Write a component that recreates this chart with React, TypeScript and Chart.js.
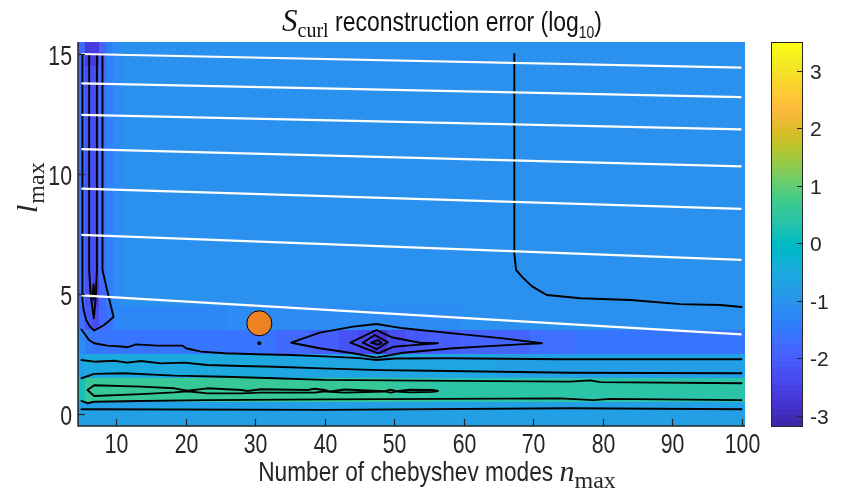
import React, { useEffect, useRef } from "react";
import { Chart, registerables } from "chart.js";
Chart.register(...registerables);

// ---------- data ----------
const N_COLS = [5, 6, 7, 8, 9, 10, 12, 16, 22, 30, 36, 40, 44, 46, 48, 50, 53, 57, 62, 67, 72, 80, 90, 100];
const L_ROWS = [0, 1, 2, 3, 4, 5, 6, 7, 8, 9, 10, 11, 12, 13, 14, 15];

const ERR_L0 = [-0.78, -0.76, -0.76, -0.76, -0.76, -0.76, -0.76, -0.76, -0.76, -0.76, -0.76, -0.76, -0.76, -0.76, -0.76, -0.76, -0.76, -0.76, -0.76, -0.76, -0.76, -0.76, -0.76, -0.76];
const ERR_L1 = [0.25, 0.6, 0.62, 0.62, 0.62, 0.62, 0.62, 0.6, 0.6, 0.6, 0.6, 0.58, 0.58, 0.58, 0.58, 0.56, 0.56, 0.45, 0.42, 0.42, 0.43, 0.44, 0.42, 0.42];
const ERR_L2 = [-0.7, -0.55, -0.55, -0.55, -0.55, -0.55, -0.55, -0.56, -0.57, -0.58, -0.6, -0.62, -0.63, -0.64, -0.66, -0.64, -0.63, -0.64, -0.68, -0.7, -0.7, -0.7, -0.7, -0.7];
const ERR_L3 = [-1.2, -1.5, -1.55, -1.55, -1.58, -1.6, -1.6, -1.6, -1.62, -1.62, -1.75, -2.0, -2.2, -2.4, -2.7, -2.3, -2.1, -1.95, -1.9, -1.85, -1.7, -1.6, -1.6, -1.6];
const ERR_L4 = [-1.7, -2.1, -2.3, -1.8, -1.55, -1.3, -1.22, -1.22, -1.22, -1.2, -1.2, -1.18, -1.18, -1.18, -1.2, -1.18, -1.15, -1.12, -1.1, -1.1, -1.08, -1.08, -1.08, -1.08];
const ERR_L5 = [-1.7, -2.25, -2.5, -1.75, -1.35, -1.18, -1.1, -1.06, -1.04, -1.04, -1.04, -1.04, -1.04, -1.04, -1.04, -1.04, -1.04, -1.04, -1.04, -1.04, -1.03, -1.03, -1.03, -1.03];
const ERR_L6 = [-1.7, -2.25, -2.3, -1.7, -1.32, -1.17, -1.1, -1.06, -1.04, -1.04, -1.04, -1.04, -1.04, -1.04, -1.04, -1.04, -1.04, -1.04, -1.04, -1.04, -1.03, -1.03, -1.03, -1.03];
const ERR_L7 = [-1.7, -2.25, -2.3, -1.7, -1.32, -1.17, -1.1, -1.06, -1.04, -1.04, -1.04, -1.04, -1.04, -1.04, -1.04, -1.04, -1.04, -1.04, -1.04, -1.04, -1.03, -1.03, -1.03, -1.03];
const ERR_L8 = [-1.7, -2.25, -2.3, -1.7, -1.32, -1.17, -1.1, -1.06, -1.04, -1.04, -1.04, -1.04, -1.04, -1.04, -1.04, -1.04, -1.04, -1.04, -1.04, -1.04, -1.03, -1.03, -1.03, -1.03];
const ERR_L9 = [-1.7, -2.25, -2.3, -1.7, -1.32, -1.17, -1.1, -1.06, -1.04, -1.04, -1.04, -1.04, -1.04, -1.04, -1.04, -1.04, -1.04, -1.04, -1.04, -1.04, -1.03, -1.03, -1.03, -1.03];
const ERR_L10 = [-1.7, -2.25, -2.3, -1.7, -1.32, -1.17, -1.1, -1.06, -1.04, -1.04, -1.04, -1.04, -1.04, -1.04, -1.04, -1.04, -1.04, -1.04, -1.04, -1.04, -1.03, -1.03, -1.03, -1.03];
const ERR_L11 = [-1.7, -2.25, -2.3, -1.7, -1.32, -1.17, -1.1, -1.06, -1.04, -1.04, -1.04, -1.04, -1.04, -1.04, -1.04, -1.04, -1.04, -1.04, -1.04, -1.04, -1.03, -1.03, -1.03, -1.03];
const ERR_L12 = [-1.7, -2.25, -2.3, -1.7, -1.32, -1.17, -1.1, -1.06, -1.04, -1.04, -1.04, -1.04, -1.04, -1.04, -1.04, -1.04, -1.04, -1.04, -1.04, -1.04, -1.03, -1.03, -1.03, -1.03];
const ERR_L13 = [-1.7, -2.25, -2.3, -1.7, -1.32, -1.17, -1.1, -1.06, -1.04, -1.04, -1.04, -1.04, -1.04, -1.04, -1.04, -1.04, -1.04, -1.04, -1.04, -1.04, -1.03, -1.03, -1.03, -1.03];
const ERR_L14 = [-1.75, -2.3, -2.35, -1.75, -1.33, -1.17, -1.1, -1.06, -1.04, -1.04, -1.04, -1.04, -1.04, -1.04, -1.04, -1.04, -1.04, -1.04, -1.04, -1.04, -1.03, -1.03, -1.03, -1.03];
const ERR_L15 = [-1.8, -2.6, -2.65, -1.9, -1.35, -1.18, -1.1, -1.06, -1.04, -1.04, -1.04, -1.04, -1.04, -1.04, -1.04, -1.04, -1.04, -1.04, -1.04, -1.04, -1.03, -1.03, -1.03, -1.03];
const ERR_TABLE = [ERR_L0, ERR_L1, ERR_L2, ERR_L3, ERR_L4, ERR_L5, ERR_L6, ERR_L7, ERR_L8, ERR_L9, ERR_L10, ERR_L11, ERR_L12, ERR_L13, ERR_L14, ERR_L15];

const X_TICKS = [10, 20, 30, 40, 50, 60, 70, 80, 90, 100];
const Y_TICKS = [0, 5, 10, 15];
const CB_TICKS = [-3, -2, -1, 0, 1, 2, 3];
const CB_MIN = -3.2;
const CB_MAX = 3.5;

// white guide lines: l at n=5 and at n=100
const WHITE_N = [5, 100];
const WHITE_L_START = [15.0, 13.78, 12.46, 11.04, 9.39, 7.46, 4.94];
const WHITE_L_END = [14.43, 13.2, 11.86, 10.32, 8.55, 6.42, 3.32];

// contour polylines [n, l]
const C_STRIP_OUTER = [[5.14, 15], [5.14, 4.75], [5.31, 4.33], [5.67, 3.92], [6.25, 3.63], [6.83, 3.48], [8.27, 3.71], [9.61, 4.04], [8.85, 4.96], [8.02, 6.0], [8.02, 15]];
const C_STRIP_INNER = [[6.11, 15], [6.11, 6.0], [6.32, 4.96], [6.77, 3.99], [7.04, 4.75], [7.22, 6.0], [7.22, 15]];
const C_STRIP_CORE = [[6.75, 5.4], [6.9, 5.08], [6.75, 4.75], [6.61, 5.08], [6.75, 5.4]];
const C_UPPER_RIGHT = [[67.3, 15], [67.3, 6.7], [67.55, 6.0], [68.56, 5.67], [69.81, 5.33], [70.7, 5.17], [71.98, 4.96], [76.8, 4.82], [84.0, 4.75], [91.2, 4.58], [96.97, 4.54], [100, 4.46]];
const C_A = [[5, 3.52], [6.11, 3.08], [6.83, 2.95], [8.75, 2.85], [11.15, 2.8], [11.59, 2.78], [12.84, 2.9], [15.96, 2.85], [19.52, 2.85], [20.05, 2.74], [22.2, 2.6], [25.6, 2.53], [30.3, 2.49], [35.2, 2.46], [40, 2.4], [45.05, 2.33], [47.46, 2.25], [50.1, 2.31], [58, 2.32], [73.9, 2.28], [86.9, 2.28], [100, 2.28]];
const C_B = [[5, 2.25], [6.83, 2.18], [9.71, 2.22], [11.59, 2.14], [13.56, 2.21], [16.45, 2.11], [19.8, 2.14], [23.1, 2.04], [28, 2.0], [32.8, 1.97], [39.6, 1.9], [47.9, 1.83], [58, 1.79], [75.3, 1.72], [86.9, 1.71], [100, 1.7]];
const C_C = [[5, 1.49], [6.83, 1.67], [11.15, 1.7], [18.4, 1.6], [25.6, 1.55], [32.8, 1.49], [40, 1.42], [53.7, 1.39], [75.3, 1.35], [78.2, 1.4], [79.7, 1.33], [100, 1.28]];
const C_D = [[5.86, 1.0], [6.83, 1.2], [13.56, 1.14], [18.37, 1.07], [20.24, 0.97], [23.13, 1.07], [28, 1.0], [28.9, 0.96], [30.87, 1.03], [37.55, 1.0], [38.56, 1.05], [40, 1.0], [40.7, 0.94], [42.9, 1.02], [48.66, 0.95], [49.5, 1.01], [50.34, 0.95], [52.3, 1.01], [55.5, 1.0], [56.3, 0.96], [55.5, 0.92], [52.3, 0.9], [50.34, 0.94], [49.5, 0.89], [48.66, 0.94], [42.9, 0.89], [40.7, 0.92], [40, 0.95], [38.56, 0.89], [30.87, 0.89], [28, 0.86], [23.13, 0.86], [20.24, 0.95], [18.37, 0.9], [13.56, 0.83], [6.83, 0.75], [5.86, 1.0]];
const C_E = [[5, 0.55], [5.86, 0.45], [6.83, 0.51], [13.56, 0.54], [23.13, 0.58], [40, 0.61], [73.9, 0.65], [78.7, 0.58], [81.1, 0.63], [100, 0.58]];
const C_F = [[5, 0.2], [40, 0.17], [75.3, 0.24], [100, 0.2]];
const C_BLOB1 = [[35.2, 2.97], [39.3, 3.39], [44.1, 3.64], [47.46, 3.75], [51.3, 3.57], [58.5, 3.36], [65.7, 3.15], [71.26, 2.95], [68.1, 2.9], [58.5, 2.74], [51.3, 2.55], [47.46, 2.35], [44.1, 2.53], [39.3, 2.74], [35.2, 2.97]];
const C_BLOB2 = [[43.7, 2.97], [47.46, 3.5], [49.6, 3.2], [53.7, 2.97], [56.3, 2.95], [53.7, 2.89], [49.85, 2.8], [47.7, 2.53], [43.7, 2.97]];
const C_BLOB3 = [[45.5, 2.97], [47.2, 3.29], [49.1, 2.99], [47.46, 2.7], [45.5, 2.97]];
const C_BLOB4 = [[46.7, 2.97], [47.7, 3.08], [48.2, 2.95], [47.7, 2.89], [46.7, 2.97]];
const CONTOURS = [C_STRIP_OUTER, C_STRIP_INNER, C_STRIP_CORE, C_UPPER_RIGHT, C_A, C_B, C_C, C_D, C_E, C_F, C_BLOB1, C_BLOB2, C_BLOB3, C_BLOB4];

const OPTIMUM = [30.6, 3.78];
const SMALL_DOT = [30.6, 2.95];

// ---------- style ----------
const PARULA = [
  [0.2422, 0.1504, 0.6603], [0.2504, 0.165, 0.7076], [0.2578, 0.1818, 0.7511], [0.2647, 0.1978, 0.7952],
  [0.2706, 0.2147, 0.8364], [0.2751, 0.2342, 0.871], [0.2783, 0.2559, 0.8991], [0.2803, 0.2782, 0.9221],
  [0.2813, 0.3006, 0.9414], [0.281, 0.3228, 0.9579], [0.2795, 0.3447, 0.9717], [0.276, 0.3667, 0.9829],
  [0.2699, 0.3892, 0.9906], [0.2602, 0.4123, 0.9952], [0.244, 0.4358, 0.9988], [0.2206, 0.4603, 0.9973],
  [0.1963, 0.4847, 0.9892], [0.1834, 0.5074, 0.9798], [0.1786, 0.5289, 0.9682], [0.1764, 0.5499, 0.952],
  [0.1687, 0.5703, 0.9359], [0.154, 0.5902, 0.9218], [0.146, 0.6091, 0.9079], [0.138, 0.6276, 0.8973],
  [0.1248, 0.6459, 0.8883], [0.1113, 0.6635, 0.8763], [0.0952, 0.6798, 0.8598], [0.0689, 0.6948, 0.8394],
  [0.0297, 0.7082, 0.8163], [0.0036, 0.7203, 0.7917], [0.0067, 0.7312, 0.766], [0.0433, 0.7411, 0.7394],
  [0.0964, 0.75, 0.712], [0.1408, 0.7584, 0.6842], [0.1717, 0.767, 0.6554], [0.1938, 0.7758, 0.6251],
  [0.2161, 0.7843, 0.5923], [0.247, 0.7918, 0.5567], [0.2906, 0.7973, 0.5188], [0.3406, 0.8008, 0.4789],
  [0.3909, 0.8029, 0.4354], [0.4456, 0.8024, 0.3909], [0.5044, 0.7993, 0.348], [0.5616, 0.7942, 0.3045],
  [0.6174, 0.7876, 0.2612], [0.672, 0.7793, 0.2227], [0.7242, 0.7698, 0.191], [0.7738, 0.7598, 0.1646],
  [0.8203, 0.7498, 0.1535], [0.8634, 0.7406, 0.1596], [0.9035, 0.733, 0.1774], [0.9393, 0.7288, 0.21],
  [0.9728, 0.7298, 0.2394], [0.9956, 0.7434, 0.2371], [0.997, 0.7659, 0.2199], [0.9952, 0.7893, 0.2028],
  [0.9892, 0.8136, 0.1885], [0.9786, 0.8386, 0.1766], [0.9676, 0.8639, 0.1643], [0.961, 0.889, 0.1537],
  [0.9597, 0.9135, 0.1423], [0.9628, 0.9373, 0.1265], [0.9691, 0.9606, 0.1064], [0.9769, 0.9839, 0.0805],
];
function parulaIdx(i: number) {
  const c = PARULA[Math.max(0, Math.min(63, i))];
  return `rgb(${Math.round(c[0] * 255)},${Math.round(c[1] * 255)},${Math.round(c[2] * 255)})`;
}
function colorFor(v: number) {
  const t = (v - CB_MIN) / (CB_MAX - CB_MIN);
  return parulaIdx(Math.floor(t * 64));
}

const INK = "#262626";
const SANS = '"Liberation Sans", Arial, Helvetica, sans-serif';
const SERIF = '"Liberation Serif", "Times New Roman", serif';

function drawText(ctx: CanvasRenderingContext2D, s: string, x: number, y: number, font: string, sx = 1, align: CanvasTextAlign = "left", color = INK) {
  ctx.save();
  ctx.font = font;
  ctx.fillStyle = color;
  ctx.textAlign = align;
  ctx.textBaseline = "alphabetic";
  ctx.translate(x, y);
  ctx.scale(sx, 1);
  ctx.fillText(s, 0, 0);
  ctx.restore();
}
function textW(ctx: CanvasRenderingContext2D, s: string, font: string, sx = 1) {
  ctx.save();
  ctx.font = font;
  const w = ctx.measureText(s).width * sx;
  ctx.restore();
  return w;
}
type Part = { s: string; font: string; sx: number; dy: number };
function drawParts(ctx: CanvasRenderingContext2D, parts: Part[], cx: number, y: number, color = INK) {
  const total = parts.reduce((a, p) => a + textW(ctx, p.s, p.font, p.sx), 0);
  let x = cx - total / 2;
  for (const p of parts) {
    drawText(ctx, p.s, x, y + p.dy, p.font, p.sx, "left", color);
    x += textW(ctx, p.s, p.font, p.sx);
  }
}

const heatmapPlugin = {
  id: "heatmap",
  beforeDatasetsDraw(chart: any) {
    const { ctx, scales } = chart;
    const xs = scales.x, ys = scales.y;
    const edges: number[] = [N_COLS[0] - 0.5];
    for (let j = 0; j < N_COLS.length - 1; j++) edges.push((N_COLS[j] + N_COLS[j + 1]) / 2);
    edges.push(N_COLS[N_COLS.length - 1] + 0.5);
    ctx.save();
    for (let i = 0; i < L_ROWS.length; i++) {
      const yTop = Math.round(ys.getPixelForValue(L_ROWS[i] + 0.5));
      const yBot = Math.round(ys.getPixelForValue(L_ROWS[i] - 0.5));
      for (let j = 0; j < N_COLS.length; j++) {
        const x0 = Math.round(xs.getPixelForValue(edges[j]));
        const x1 = Math.round(xs.getPixelForValue(edges[j + 1]));
        ctx.fillStyle = colorFor(ERR_TABLE[i][j]);
        ctx.fillRect(x0, yTop, x1 - x0, yBot - yTop);
      }
    }
    ctx.restore();
  },
};

const decorPlugin = {
  id: "decor",
  afterDraw(chart: any) {
    const { ctx, scales, chartArea } = chart;
    const xs = scales.x, ys = scales.y;
    const { left, right, top, bottom } = chartArea;
    ctx.save();
    // axes lines
    ctx.strokeStyle = INK;
    ctx.lineWidth = 1.5;
    ctx.beginPath();
    ctx.moveTo(left, top);
    ctx.lineTo(left, bottom);
    ctx.lineTo(right, bottom);
    ctx.stroke();
    // ticks (inward)
    ctx.lineWidth = 1.2;
    for (const t of X_TICKS) {
      const x = Math.round(xs.getPixelForValue(t)) + 0.5;
      ctx.beginPath();
      ctx.moveTo(x, bottom);
      ctx.lineTo(x, bottom - 7);
      ctx.stroke();
      drawText(ctx, String(t), x, bottom + 27, `28px ${SANS}`, 0.76, "center");
    }
    for (const t of Y_TICKS) {
      const y = Math.round(ys.getPixelForValue(t)) + 0.5;
      ctx.beginPath();
      ctx.moveTo(left, y);
      ctx.lineTo(left + 7, y);
      ctx.stroke();
      drawText(ctx, String(t), left - 6, y + 10, `28px ${SANS}`, 0.76, "right");
    }
    // colorbar
    const cbL = 771, cbR = 803, cbT = 42, cbB = 427;
    const cbY = (v: number) => cbB - ((v - CB_MIN) / (CB_MAX - CB_MIN)) * (cbB - cbT);
    for (let k = 0; k < 64; k++) {
      const y0 = cbB - (k / 64) * (cbB - cbT);
      const y1 = cbB - ((k + 1) / 64) * (cbB - cbT);
      ctx.fillStyle = parulaIdx(k);
      ctx.fillRect(cbL, Math.floor(y1), cbR - cbL, Math.ceil(y0) - Math.floor(y1));
    }
    ctx.strokeStyle = INK;
    ctx.lineWidth = 1;
    ctx.strokeRect(cbL + 0.5, cbT + 0.5, cbR - cbL - 1, cbB - cbT - 1);
    for (const t of CB_TICKS) {
      const y = Math.round(cbY(t)) + 0.5;
      ctx.beginPath();
      ctx.moveTo(cbR - 1, y);
      ctx.lineTo(cbR - 6, y);
      ctx.stroke();
      drawText(ctx, String(t), cbR + 7, y + 7.5, `21px ${SANS}`, 1, "left");
    }
    // title
    drawParts(
      ctx,
      [
        { s: "S", font: `italic 31px ${SERIF}`, sx: 1, dy: 0 },
        { s: "curl", font: `20px ${SERIF}`, sx: 1, dy: 6 },
        { s: " reconstruction error (log", font: `28px ${SANS}`, sx: 0.82, dy: 0 },
        { s: "10", font: `17px ${SANS}`, sx: 0.82, dy: 7 },
        { s: ")", font: `28px ${SANS}`, sx: 0.82, dy: 0 },
      ],
      442,
      31,
      "#111"
    );
    // x label
    drawParts(
      ctx,
      [
        { s: "Number of chebyshev modes ", font: `28px ${SANS}`, sx: 0.81, dy: 0 },
        { s: "n", font: `italic 30px ${SERIF}`, sx: 1, dy: 0 },
        { s: "max", font: `24px ${SERIF}`, sx: 1, dy: 7 },
      ],
      437,
      481
    );
    // y label (rotated)
    ctx.save();
    ctx.translate(37, 213);
    ctx.rotate(-Math.PI / 2);
    drawText(ctx, "l", 0, 0, `italic 30px ${SERIF}`, 1, "left");
    const wl = textW(ctx, "l", `italic 30px ${SERIF}`);
    drawText(ctx, "max", wl + 1, 7, `24px ${SERIF}`, 1, "left");
    ctx.restore();
    ctx.restore();
  },
};

export default function App() {
  const ref = useRef<HTMLCanvasElement | null>(null);
  useEffect(() => {
    if (!ref.current) return;
    const pts = (arr: number[][]) => arr.map(([x, y]) => ({ x, y }));
    const datasets: any[] = [];
    datasets.push({
      data: [{ x: OPTIMUM[0], y: OPTIMUM[1] }],
      pointRadius: 12.5,
      backgroundColor: "#EE8222",
      borderColor: "#000",
      borderWidth: 1,
      showLine: false,
    });
    datasets.push({
      data: [{ x: SMALL_DOT[0], y: SMALL_DOT[1] }],
      pointRadius: 2,
      backgroundColor: "#000",
      borderColor: "#000",
      borderWidth: 0,
      showLine: false,
    });
    for (let k = 0; k < WHITE_L_START.length; k++) {
      datasets.push({
        data: [
          { x: WHITE_N[0], y: WHITE_L_START[k] },
          { x: WHITE_N[1], y: WHITE_L_END[k] },
        ],
        showLine: true,
        borderColor: "#ffffff",
        borderWidth: 2.2,
        pointRadius: 0,
        tension: 0,
        fill: false,
      });
    }
    for (const c of CONTOURS) {
      datasets.push({
        data: pts(c),
        showLine: true,
        borderColor: "#000000",
        borderWidth: 1.9,
        pointRadius: 0,
        tension: 0,
        fill: false,
        borderJoinStyle: "round",
        borderCapStyle: "round",
      });
    }
    const chart = new Chart(ref.current, {
      type: "scatter",
      data: { datasets },
      options: {
        animation: false,
        responsive: false,
        devicePixelRatio: 1,
        events: [],
        layout: { padding: { left: 78, right: 97, top: 42, bottom: 77 } },
        scales: {
          x: { type: "linear", min: 4.5, max: 100.5, display: false },
          y: { type: "linear", min: -0.5, max: 15.5, display: false },
        },
        plugins: { legend: { display: false }, tooltip: { enabled: false }, title: { display: false } },
      },
      plugins: [heatmapPlugin, decorPlugin],
    } as any);
    return () => chart.destroy();
  }, []);
  return (
    <div style={{ position: "absolute", left: 0, top: 0, width: 842, height: 503, background: "#fff" }}>
      <canvas ref={ref} width={842} height={503} style={{ display: "block", width: 842, height: 503 }} />
    </div>
  );
}
